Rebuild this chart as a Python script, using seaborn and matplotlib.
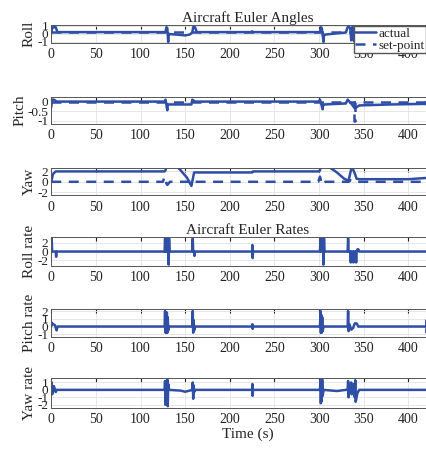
import matplotlib
matplotlib.use("Agg")
import matplotlib.pyplot as plt
import seaborn as sns
import numpy as np

# === Data (time in s) ===
roll_t = [0, 1, 2, 5, 7, 128, 129, 130, 131, 131.5, 133, 140, 150, 155, 158, 159, 161, 163,
          224, 225, 226, 301, 302, 303, 305, 305.5, 307, 320, 330, 332, 334, 335, 336, 337,
          338, 339, 340, 342, 350, 425]
roll_v = [0, 0.7, 0.8, 0.8, 0.2, 0.2, 0.8, 0.7, -1, 0, -0.05, -0.1, -0.2, -0.1, 0.15, 0.8,
          0.8, 0.2, 0.2, 0.3, 0.2, 0.2, 0.8, 0.7, -1, -0.1, -0.1, 0.05, 0.15, 0.8, 0.8, 0.6,
          -0.8, 0.8, 0.8, -0.9, 0.2, 0.2, 0.2, 0.2]
roll_sp_t = [0, 425]
roll_sp_v = [0.2, 0.2]

pitch_t = [0, 1, 3, 6, 127, 128, 130, 130.5, 132, 157, 158, 161, 225, 226, 300, 301, 304,
           304.5, 306, 330, 332, 336, 340, 345, 380, 420, 420.5, 421, 425]
pitch_v = [-0.3, 0.1, 0.1, 0, 0, 0.1, -0.45, -0.15, -0.15, -0.15, 0.1, 0, 0, 0, 0, 0.1, -0.4,
           -0.15, -0.15, -0.1, 0.1, -0.1, -0.35, -0.2, -0.15, -0.12, 0.0, -0.25, -0.1]
pitch_sp_t = [0, 339.5, 339.5, 340.5, 340.5, 425]
pitch_sp_v = [0, 0, -1, -1, 0, 0]

yaw_t = [0, 2, 5, 127, 128, 129, 131, 138, 145, 152, 157, 160, 225, 226, 300, 301, 302, 305,
         310, 320, 328, 333, 336, 338, 340, 342, 345, 400, 425]
yaw_v = [0, 1.5, 2, 2, 2.2, 3.2, 3.5, 3.4, 2.2, 0.8, -0.8, 1.8, 1.8, 2.0, 2.0, 2.2, 3.2, 3.5,
         3.0, 1.8, 0.6, 0.2, 2.5, 2.4, 1.6, 0.6, 0.5, 0.5, 0.8]
yaw_sp_t = [0, 125, 127, 129, 130, 133, 155, 157, 159, 299, 301, 303, 304, 307, 333, 335,
            337, 425]
yaw_sp_v = [0, 0, 1, -0.3, -0.6, 0, 0, -0.4, 0, 0, 1, -0.3, -0.6, 0, 0, 0.3, 0, 0]

rollrate_t = [0, 0.5, 1, 5, 5.5, 6, 127, 127.5, 128, 129, 129.5, 130, 131, 131.5, 132, 132.5,
              158, 158.5, 159, 160, 160.5, 161, 225, 225.3, 225.6, 226, 301, 301.5, 302, 304,
              304.5, 305, 305.5, 306, 332, 332.5, 333, 335, 335.5, 336, 338, 338.5, 339, 341,
              341.5, 342, 343, 344, 345, 425]
rollrate_v = [0, 3, 0, 0, -1.2, 0, 0, 3, 0, 0, 3, 0, 0, -3, 3, 0, 0, 3, 0, 0, -1, 0, 0, 1.5,
              -1.5, 0, 0, 3, 0, 0, 3, -3, 3, 0, 0, 3, 0, 0, -2.5, 0, 0, -2.5, 0, 0, -2.5, 0,
              0.5, 0.5, 0, 0]

pitchrate_t = [0, 0.5, 2, 4, 6, 7, 127, 127.5, 128, 128.5, 129, 129.5, 130, 130.5, 131, 132,
               158, 158.5, 159, 159.5, 160, 161, 225, 225.3, 225.6, 226, 301, 301.5, 302,
               302.5, 303, 303.5, 304, 305, 332, 332.5, 333, 334, 336, 338, 340, 342, 344,
               420, 420.3, 420.6, 421, 425]
pitchrate_v = [0, 0.5, 0.3, 0.2, -0.5, 0, 0, 2, -0.8, 1.5, -0.8, 1.8, -0.8, 1.2, -0.5, 0, 0,
               2, -0.8, 0.8, -0.5, 0, 0, 0.3, -0.3, 0, 0, 2, -0.8, 1.5, -0.8, 1.2, -0.6, 0, 0,
               2, -0.6, 0.3, -0.4, -0.2, 0.4, 0.4, 0, 0, 0.8, -0.8, 0, 0]

yawrate_t = [0, 0.5, 1, 3, 5, 6, 127, 127.5, 128, 129, 129.5, 130, 130.5, 131, 132, 145, 150,
             155, 158, 158.5, 159, 159.5, 160, 161, 225, 225.3, 225.6, 226, 301, 301.5, 302,
             302.5, 303, 303.5, 304, 305, 320, 330, 332, 332.5, 333, 334, 336, 336.5, 338,
             340, 340.5, 341, 343, 345, 425]
yawrate_v = [0, 1, -0.6, 0.5, -0.3, 0, 0, 1.2, -2.0, 1.0, -1.5, 1.4, -2.2, 0.8, 0, -0.1,
             -0.25, -0.1, 0, 1.0, -1.2, 0.6, -0.3, 0, 0, 0.8, -0.8, 0, 0, 1.3, -1.8, 1.2, -1.5,
             1.4, -0.8, 0, -0.15, 0, 0, 1.2, -1.0, 0.5, 1.0, -0.6, 0.8, -1.0, 1.3, -1.6, -0.4,
             0, 0]

labels = ["Roll", "Pitch", "Yaw", "Roll rate", "Pitch rate", "Yaw rate"]
ylims = [(-1.1, 1.1), (-1.15, 0.25), (-2.6, 2.6), (-3.2, 3.4), (-1.3, 2.3), (-2.4, 1.6)]
yticks = [[-1, 0, 1], [-1, -0.5, 0], [-2, 0, 2], [-2, 0, 2], [-1, 0, 1, 2], [-2, -1, 0, 1]]
series = [(roll_t, roll_v), (pitch_t, pitch_v), (yaw_t, yaw_v),
          (rollrate_t, rollrate_v), (pitchrate_t, pitchrate_v), (yawrate_t, yawrate_v)]
setpoints = {0: (roll_sp_t, roll_sp_v), 1: (pitch_sp_t, pitch_sp_v), 2: (yaw_sp_t, yaw_sp_v)}

# === Style ===
sns.set_style("white")
plt.rcParams['font.family'] = ['Liberation Serif', 'DejaVu Serif']
plt.rcParams['font.size'] = 10
blue = "#2f4ea6"

fig = plt.figure(figsize=(4.27, 4.5), dpi=100)
# axes boxes [left, bottom, width, height] in figure fraction
boxes = [[0.12, 0.905, 0.92, 0.040],
         [0.12, 0.725, 0.92, 0.060],
         [0.12, 0.566, 0.92, 0.060],
         [0.12, 0.410, 0.92, 0.064],
         [0.12, 0.252, 0.92, 0.062],
         [0.12, 0.094, 0.92, 0.066]]

axes = []
for i, box in enumerate(boxes):
    ax = fig.add_axes(box)
    t, v = series[i]
    if i in setpoints:
        st, sv = setpoints[i]
        sns.lineplot(x=st, y=sv, ax=ax, color=blue, lw=1.8, linestyle=(0, (4, 3)),
                     sort=False, estimator=None, label="set-point" if i == 0 else None)
    sns.lineplot(x=t, y=v, ax=ax, color=blue, lw=1.8, sort=False, estimator=None,
                 label="actual" if i == 0 else None)
    ax.set_xlim(0, 440)
    ax.set_ylim(*ylims[i])
    ax.set_xticks(np.arange(0, 450, 50))
    ax.set_yticks(yticks[i])
    ax.set_yticklabels([f"{y:g}" for y in yticks[i]])
    ax.tick_params(direction="in", length=3, labelsize=10, top=True, right=True,
                   colors="#222222")
    ax.tick_params(axis="x", pad=4)
    ax.tick_params(axis="y", pad=2, labelsize=9.5)
    ax.grid(True, color="#e3e3e3", lw=0.6)
    for s in ax.spines.values():
        s.set_color("#555555")
        s.set_linewidth(0.7)
    ax.set_ylabel(labels[i], fontsize=11, labelpad=1)
    ax.set_xlabel("")
    axes.append(ax)

axes[0].set_title("Aircraft Euler Angles", fontsize=11, pad=2)
axes[3].set_title("Aircraft Euler Rates", fontsize=11, pad=2)
axes[5].set_xlabel("Time (s)", fontsize=11, labelpad=1)

h, l = axes[0].get_legend_handles_labels()
order = [l.index("actual"), l.index("set-point")]
axes[0].legend([h[k] for k in order], [l[k] for k in order], loc="upper right",
               bbox_to_anchor=(0.997, 0.942), bbox_transform=fig.transFigure,
               fontsize=9.5, frameon=True, fancybox=False, edgecolor="#555555",
               framealpha=1, handlelength=1.6, handletextpad=0.15, borderpad=0.1,
               labelspacing=0.0, borderaxespad=0)

fig.savefig("out.png", dpi=100)
